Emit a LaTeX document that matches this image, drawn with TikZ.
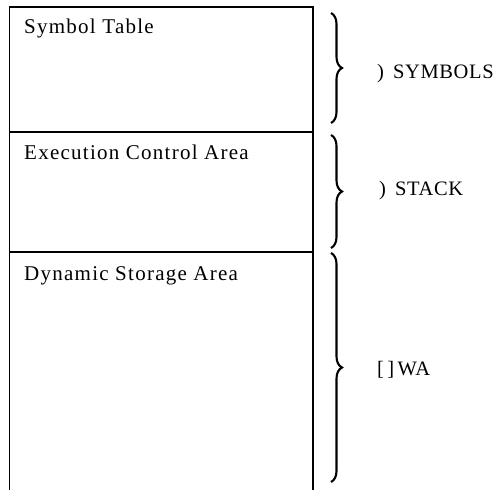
\documentclass[tikz,border=0pt]{standalone}
\usepackage{fontspec}
\setmainfont{Liberation Serif}
\usetikzlibrary{decorations.pathreplacing}
\begin{document}
\begin{tikzpicture}[x=1pt,y=-1pt,
  lbl/.style={inner sep=0pt, anchor=base west, font=\fontsize{21}{25}\selectfont\addfontfeature{LetterSpace=6}},
  rlbl/.style={inner sep=0pt, anchor=west, font=\fontsize{20.5}{24}\selectfont\addfontfeature{LetterSpace=3}},
  frame/.style={line width=1.7pt},
  bracestyle/.style={decorate, decoration={brace, amplitude=11pt}, line width=2.1pt}]
\useasboundingbox (0,0) rectangle (497,489);
% frame
\coordinate (bl) at (9.5,490);
\coordinate (tl) at (9.5,7);
\coordinate (tr) at (313,7);
\coordinate (br) at (313,490);
\coordinate (d1l) at (9.5,132);
\coordinate (d1r) at (313,132);
\coordinate (d2l) at (9.5,252);
\coordinate (d2r) at (313,252);
\draw[frame] (bl) -- (tl) -- (tr) -- (br);
\draw[frame] (d1l) -- (d1r);
\draw[frame] (d2l) -- (d2r);
% area labels
\node[lbl] (sym) at (24,34) {Symbol Table};
\node[lbl] (exe) at (24,160) {Execution Control Area};
\node[lbl] (dyn) at (24,280) {Dynamic Storage Area};
% braces
\coordinate (b1t) at (331,13);
\coordinate (b1b) at (331,123);
\coordinate (b2t) at (331,135);
\coordinate (b2b) at (331,248);
\coordinate (b3t) at (331,253);
\coordinate (b3b) at (331,482);
\draw[bracestyle] (b1t) -- (b1b);
\draw[bracestyle] (b2t) -- (b2b);
\draw[bracestyle] (b3t) -- (b3b);
% right labels
\node[rlbl] (lsym) at (377,74) {)\, SYMBOLS};
\node[rlbl] (lstk) at (379,191) {)\, STACK};
\node[rlbl] (lwa) at (377,370) {[\,]\,WA};
\end{tikzpicture}
\end{document}
